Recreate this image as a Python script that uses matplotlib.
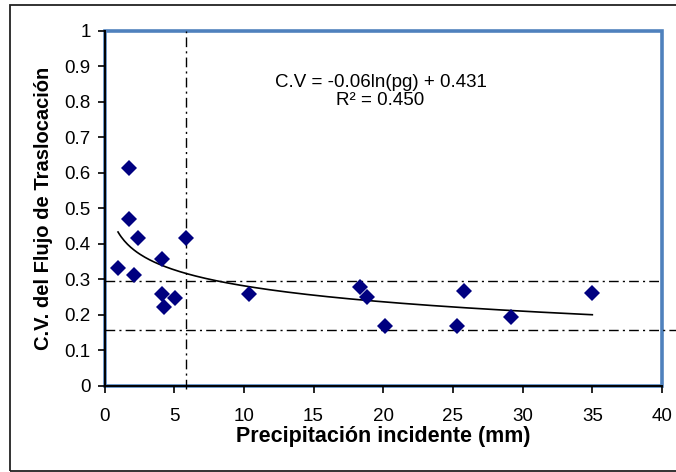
import matplotlib.pyplot as plt
from matplotlib.patches import Rectangle
import numpy as np

plt.rcParams['font.family'] = ['Liberation Sans', 'DejaVu Sans']

# datos
precip = [0.97, 1.76, 1.76, 2.38, 2.11, 4.12, 4.12, 4.27, 5.05, 5.82,
          10.38, 18.3, 18.8, 20.1, 25.3, 25.8, 29.2, 35.0]
cv = [0.332, 0.613, 0.470, 0.415, 0.311, 0.356, 0.258, 0.223, 0.248, 0.417,
      0.258, 0.279, 0.249, 0.168, 0.168, 0.268, 0.193, 0.262]

# tendencia logaritmica y lineas de referencia
coef_a = -0.065
coef_b = 0.431
eq_text = "C.V = -0.06ln(pg) + 0.431\nR² = 0.450"
ref_x = 5.85
ref_y_hi = 0.294
ref_y_lo = 0.156

W, H = 676, 472
fig = plt.figure(figsize=(W / 100, H / 100), dpi=100)
ax = fig.add_axes([104.5 / W, 1 - 385.7 / H, (662 - 104.5) / W, (385.7 - 30.7) / H])

# marco exterior
fig.patches.append(Rectangle((10 / W, 1.5 / H), 1.2, 465.5 / H, transform=fig.transFigure,
                             fill=False, edgecolor='#222222', lw=1.3))

# marco azul del area de trazado
ax.add_patch(Rectangle((0, 0), 1, 1, transform=ax.transAxes, fill=False,
                       edgecolor='#4F81BD', lw=2.6, clip_on=False, zorder=1))

ax.plot(precip, cv, linestyle='none', marker='D', ms=8, color='#000080',
        markeredgewidth=0, zorder=4)

xs = np.linspace(min(precip), max(precip), 300)
ax.plot(xs, coef_a * np.log(xs) + coef_b, color='black', lw=1.2, zorder=3)

dd = (0, (7, 3, 1.5, 3))
ax.plot([ref_x, ref_x], [-0.01, 1], color='black', lw=1, linestyle=dd, clip_on=False, zorder=2)
ax.plot([0, 40], [ref_y_hi, ref_y_hi], color='black', lw=1, linestyle=dd, clip_on=False, zorder=2)
ax.plot([0, 41], [ref_y_lo, ref_y_lo], color='black', lw=1, linestyle=dd, clip_on=False, zorder=2)

ax.text(19.8, 0.828, eq_text, ha='center', va='center', fontsize=13.5, linespacing=1.1)

ax.set_xlim(0, 40)
ax.set_ylim(0, 1)
ax.set_xticks(np.arange(0, 41, 5))
ax.set_yticks(np.round(np.arange(0, 1.01, 0.1), 1))
ax.set_yticklabels(['0'] + ['%.1f' % v for v in np.arange(0.1, 0.95, 0.1)] + ['1'])

for s in ['top', 'right']:
    ax.spines[s].set_visible(False)
for s in ['left', 'bottom']:
    ax.spines[s].set_color('black')
    ax.spines[s].set_linewidth(1.4)
    ax.spines[s].set_zorder(5)

ax.tick_params(direction='out', length=5, width=1.2, labelsize=13.5, pad=5)
ax.tick_params(axis='x', pad=11)

ax.set_xlabel('Precipitación incidente (mm)', fontsize=15.5, fontweight='bold', labelpad=1)
ax.set_ylabel('C.V. del Flujo de Traslocación', fontsize=14.5, fontweight='bold', labelpad=8)

fig.savefig('out.png', dpi=100)
